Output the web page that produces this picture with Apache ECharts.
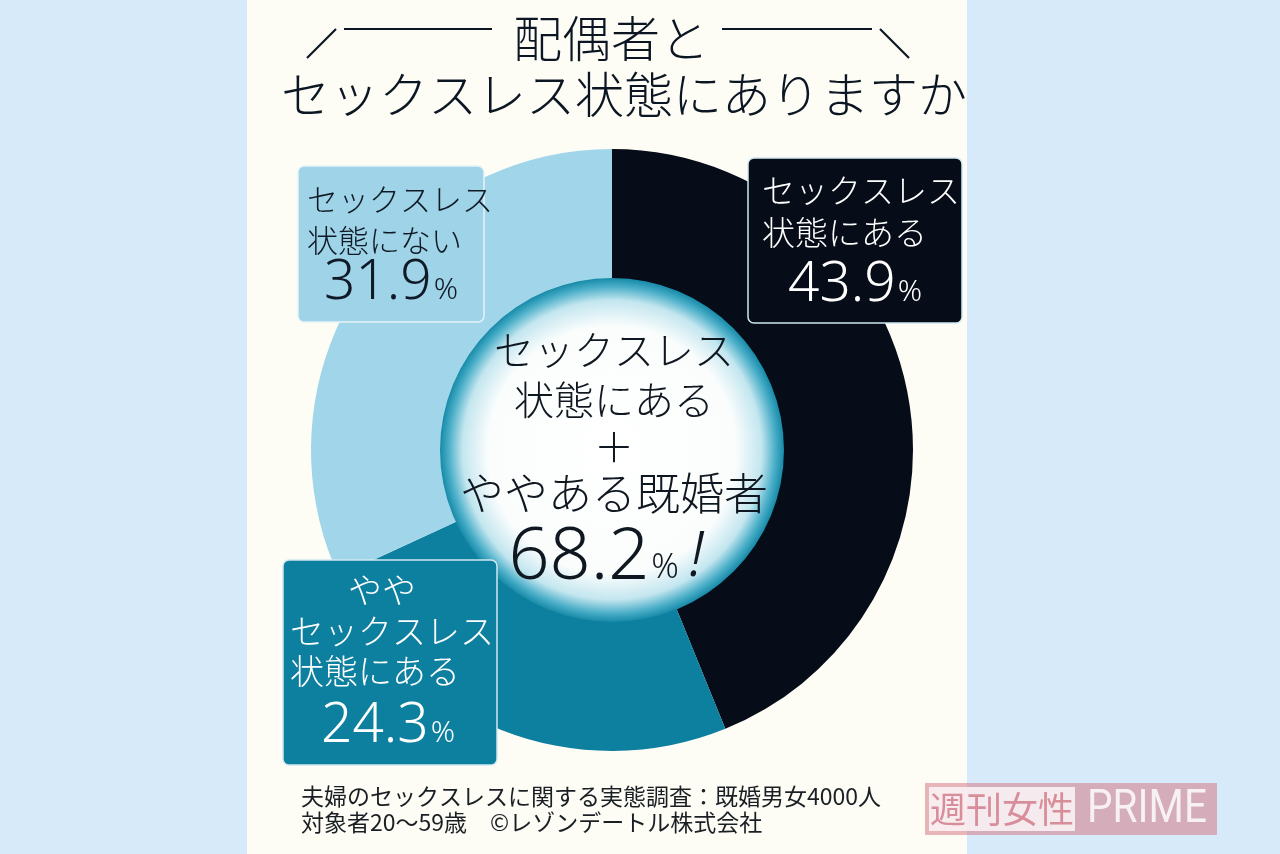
<!DOCTYPE html>
<html><head><meta charset="utf-8">
<style>html,body{margin:0;padding:0;background:#d6eafa;}#c{width:1280px;height:854px;}</style>
<script src="https://cdn.jsdelivr.net/npm/echarts@6/dist/echarts.min.js"></script>
</head><body><div id="c"></div>
<script>
const titleLine1 = '配偶者と';
const titleLine2 = 'セックスレス状態にありますか';
const categories = ['セックスレス状態にある', 'ややセックスレス状態にある', 'セックスレス状態にない'];
const labelLines = [['セックスレス', '状態にある'], ['やや', 'セックスレス', '状態にある'], ['セックスレス', '状態にない']];
const values = [43.9, 24.3, 31.9];
const centerLines = ['セックスレス', '状態にある', '＋', 'ややある既婚者'];
const centerValue = '68.2';
const notes = ['夫婦のセックスレスに関する実態調査：既婚男女4000人', '対象者20〜59歳　©レゾンデートル株式会社'];
const brand = ['週刊女性', 'PRIME'];

const colors = ['#060c18', '#0d7f9f', '#a0d5ea'];
const boxes = [
  {x: 748, y: 158, w: 214, h: 165, fill: '#060c18', stroke: '#cfe8ef', color: '#ffffff', tx: 762, fs: 33, ys: [190, 232], vy: 285, vx: 855},
  {x: 283, y: 560, w: 214, h: 205, fill: '#0d7f9f', stroke: '#cfe8ef', color: '#ffffff', tx: 290, fs: 34, ys: [590, 631, 671], vy: 726, vx: 388},
  {x: 298, y: 166, w: 186, h: 156, fill: '#9fd3e7', stroke: '#e6f4f9', color: '#0f1a26', tx: 307, fs: 31, ys: [199, 240], vy: 283, vx: 391}
];
const FONT = '"Noto Sans CJK JP", "Noto Sans", sans-serif';
const chart = echarts.init(document.getElementById('c'));
const g = [];
// panel
g.push({type: 'rect', z: -10, shape: {x: 247, y: 0, width: 720, height: 854}, style: {fill: '#fdfdf6'}});
// title decorations
const lineStyle = {stroke: '#0b1622', lineWidth: 2.2};
g.push({type: 'line', shape: {x1: 307, y1: 58, x2: 336, y2: 29}, style: lineStyle});
g.push({type: 'line', shape: {x1: 344, y1: 29, x2: 492, y2: 29}, style: lineStyle});
g.push({type: 'line', shape: {x1: 722, y1: 29, x2: 872, y2: 29}, style: lineStyle});
g.push({type: 'line', shape: {x1: 880, y1: 29, x2: 909, y2: 58}, style: lineStyle});
g.push({type: 'text', x: 611, y: 38, style: {text: titleLine1, font: '300 49px ' + FONT, fill: '#0b1622', align: 'center', verticalAlign: 'middle'}});
g.push({type: 'text', x: 624, y: 94, style: {text: titleLine2, font: '300 49px ' + FONT, fill: '#0b1622', align: 'center', verticalAlign: 'middle'}});
// label boxes
boxes.forEach((b, i) => {
  g.push({type: 'rect', z: 10, shape: {x: b.x, y: b.y, width: b.w, height: b.h, r: 6}, style: {fill: b.fill, stroke: b.stroke, lineWidth: 1.5}});
  labelLines[i].forEach((t, j) => {
    const short = t.length <= 2;
    g.push({type: 'text', z: 11, x: short ? b.vx - 6 : b.tx, y: b.ys[j], style: {text: t, font: '300 ' + b.fs + 'px ' + FONT, fill: b.color, align: short ? 'center' : 'left', verticalAlign: 'middle'}});
  });
  g.push({type: 'text', z: 11, x: b.vx, y: b.vy, style: {
    text: '{n|' + values[i].toFixed(1) + '}{p|%}', fill: b.color, align: 'center', verticalAlign: 'middle',
    rich: {n: {font: '300 55px "Noto Sans", sans-serif', fill: b.color}, p: {font: '300 30px "Noto Sans", sans-serif', fill: b.color, padding: [14, 0, 0, 2]}}
  }});
});
// center text
const cys = [350, 400, 447, 493];
const csz = [40, 40, 40, 44];
centerLines.forEach((t, j) => {
  g.push({type: 'text', z: 12, x: 614, y: cys[j], style: {text: t, font: '300 ' + csz[j] + 'px ' + FONT, fill: '#0f1720', align: 'center', verticalAlign: 'middle'}});
});
g.push({type: 'text', z: 12, x: 606, y: 558, style: {
  text: '{n|' + centerValue + '}{p|%}{e|!}', align: 'center', verticalAlign: 'middle', fill: '#0f1720',
  rich: {n: {font: '300 72px "Noto Sans", sans-serif', fill: '#0f1720'}, p: {font: '300 34px "Noto Sans", sans-serif', fill: '#0f1720', padding: [20, 10, 0, 2]}, e: {font: 'italic 300 62px "Noto Sans", sans-serif', fill: '#0f1720'}}
}});
// notes
g.push({type: 'text', x: 301, y: 796, style: {text: notes[0], font: '23px ' + FONT, fill: '#1a1f24', align: 'left', verticalAlign: 'middle'}});
g.push({type: 'text', x: 301, y: 822, style: {text: notes[1], font: '23px ' + FONT, fill: '#1a1f24', align: 'left', verticalAlign: 'middle'}});
// brand watermark
g.push({type: 'rect', z: 20, shape: {x: 925, y: 783, width: 292, height: 52}, style: {fill: 'rgba(214,120,132,0.55)'}});
g.push({type: 'rect', z: 21, shape: {x: 929, y: 787, width: 146, height: 44}, style: {fill: 'rgba(250,246,248,0.85)'}});
g.push({type: 'text', z: 22, x: 1002, y: 809, style: {text: brand[0], font: '36px ' + FONT, fill: 'rgba(205,110,125,0.75)', align: 'center', verticalAlign: 'middle'}});
g.push({type: 'text', z: 22, x: 1147, y: 810, scaleX: 0.88, originX: 0, originY: 0, style: {text: brand[1], font: '46px "Roboto", sans-serif', fill: 'rgba(250,246,250,0.92)', align: 'center', verticalAlign: 'middle'}});

chart.setOption({
  animation: false,
  backgroundColor: 'transparent',
  series: [
    {
      type: 'pie', silent: true, center: [612, 450], radius: [171, 301], startAngle: 90, clockwise: true,
      label: {show: false}, labelLine: {show: false},
      data: categories.map((c, i) => ({name: c, value: values[i], itemStyle: {color: colors[i]}}))
    },
    {
      type: 'pie', silent: true, center: [612, 450], radius: [0, 172], label: {show: false},
      data: [{name: 'center', value: 1, itemStyle: {color: {type: 'radial', x: 0.5, y: 0.5, r: 0.5,
        colorStops: [{offset: 0, color: '#ffffff'}, {offset: 0.72, color: '#fbfdfd'}, {offset: 0.87, color: '#c3e6ef'}, {offset: 0.95, color: '#4aaec8'}, {offset: 1, color: '#168aa8'}]}}}]
    }
  ],
  graphic: {elements: g}
});
</script></body></html>
